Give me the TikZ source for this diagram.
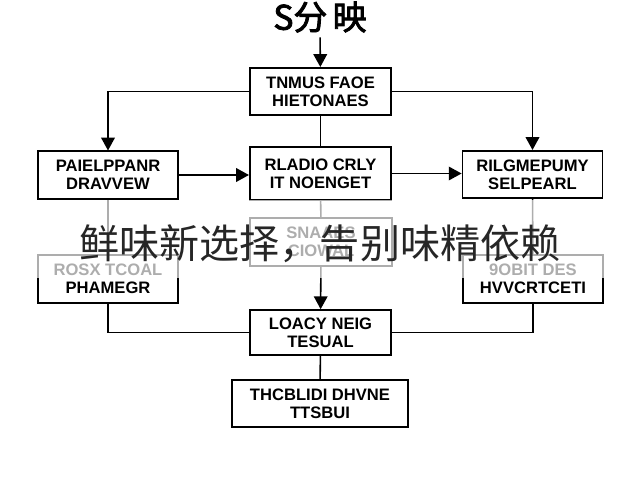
\documentclass[tikz,border=0pt]{standalone}
\usepackage{fontspec}
\setmainfont{Liberation Sans}
\newfontfamily\cjk{Noto Sans CJK SC}
\newfontfamily\cjkbold[FakeBold=2.5]{Noto Sans CJK SC}
\usetikzlibrary{arrows.meta}

\begin{document}
\begin{tikzpicture}[x=0.025cm, y=-0.025cm,
    box/.style={draw, line width=1.3pt, minimum width=3.5cm, minimum height=1.18cm,
        align=center, inner sep=2pt, font=\bfseries\fontsize{11.8}{13}\selectfont},
    link/.style={line width=1.1pt},
    arr/.style={link, -{Triangle[length=3.2mm, width=3.4mm]}}]
    \useasboundingbox (0,0) rectangle (640,480);
    \fill[white] (0,0) rectangle (640,480);

    \node (title) at (320, 17) {\cjkbold\fontsize{24}{26}\selectfont S分\,映};

    % top row
    \node[box, minimum width=3.53cm] (hist) at (320.5, 91.5) {TNMUS FAOE\\HIETONAES};
    \node[box] (pael) at (108, 175) {PAIELPPANR\\DRAVVEW};
    \node[box, minimum width=3.53cm, minimum height=1.32cm] (radio) at (320.5, 173.5) {RLADIO CRLY\\IT NOENGET};
    \node[box] (rilg) at (532.5, 174.5) {RILGMEPUMY\\SELPEARL};

    % middle row
    \node[box, minimum width=3.55cm] (snaa) at (321, 242) {SNAAES\\CIOWAL};
    \node[box] (rosx) at (108, 279) {ROSX TCOAL\\PHAMEGR};
    \node[box] (gobit) at (533, 279) {9OBIT DES\\HVVCRTCETI};

    % bottom
    \node[box, minimum width=3.53cm, minimum height=1.12cm] (loacy) at (320.5, 332.5) {LOACY NEIG\\TESUAL};
    \node[box, minimum width=4.4cm] (thcb) at (320, 403.5) {THCBLIDI DHVNE\\TTSBUI};

    \draw[arr] (title) -- (hist);
    \draw[arr] (hist.west) -| (pael.north);
    \draw[arr] (hist.east) -| (rilg.north);
    \draw[link] (hist) -- (radio);
    \draw[arr] (pael.east) -- (pael.east -| radio.west);
    \draw[arr] (radio.east) -- (radio.east -| rilg.west);
    \draw[link] (radio) -- (snaa);
    \draw[arr] (snaa) -- (loacy);
    \draw[link] (pael) -- (rosx);
    \draw[link] (rilg) -- (gobit);
    \draw[link] (rosx.south) |- (loacy.west);
    \draw[link] (gobit.south) |- (loacy.east);
    \draw[link] (loacy) -- (thcb);

    % caption over a pale band
    \fill[white, opacity=0.68] (0,200) rectangle (640,278);
    \node[text=black!85] (caption) at (320, 244) {\cjk\fontsize{28.5}{30}\selectfont 鲜味新选择，告别味精依赖};
\end{tikzpicture}
\end{document}
